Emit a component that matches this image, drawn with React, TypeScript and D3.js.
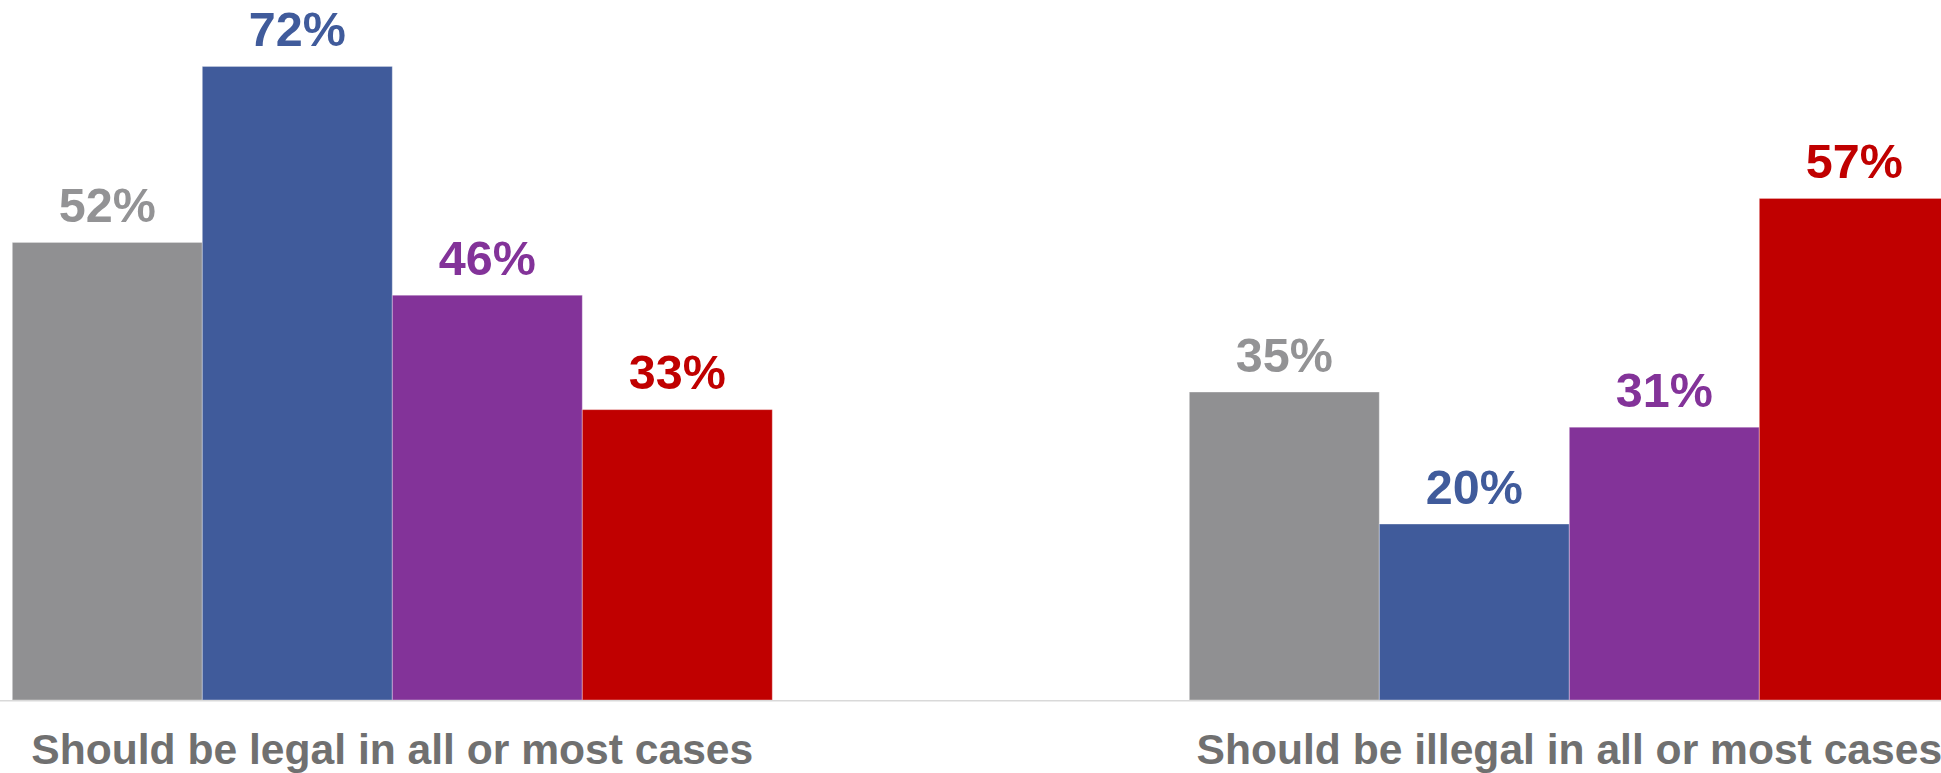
import React from "react";
import * as d3 from "d3";

const categories = ["Should be legal in all or most cases", "Should be illegal in all or most cases"];
const seriesNames = ["Total", "Democrat", "Independent", "Republican"];
const seriesColors = ["#909092", "#405B9B", "#833399", "#C00000"];
const labelColors = ["#939395", "#405B9B", "#833399", "#C00000"];
const values: number[][] = [
  [52, 72, 46, 33],
  [35, 20, 31, 57],
];

const W = 1941;
const H = 773;

export default function App() {
  const baseline = 700;
  const x0 = d3.scaleBand<string>().domain(categories).range([12.3, 1949.3]).paddingInner(0.3543).paddingOuter(0);
  const x1 = d3.scaleBand<string>().domain(seriesNames).range([0, x0.bandwidth()]).padding(0);
  const y = d3.scaleLinear().domain([0, 79.55]).range([baseline, 0]);

  return (
    <svg
      width={W}
      height={H}
      style={{ position: "absolute", left: 0, top: 0, display: "block", background: "#fff" }}
      fontFamily="'Liberation Sans', Arial, sans-serif"
    >
      <rect x={0} y={0} width={W} height={H} fill="#fff" />
      {categories.map((c, ci) => (
        <g key={c} transform={`translate(${x0(c)},0)`}>
          {seriesNames.map((s, si) => {
            const v = values[ci][si];
            const bx = x1(s)!;
            return (
              <g key={s}>
                <rect
                  x={bx}
                  y={y(v)}
                  width={x1.bandwidth()}
                  height={baseline - y(v)}
                  fill={seriesColors[si]}
                  stroke="#ffffff"
                  strokeOpacity={0.35}
                  strokeWidth={1}
                />
                <text
                  x={bx + x1.bandwidth() / 2}
                  y={y(v) - 20.5}
                  textAnchor="middle"
                  fontSize={48.5}
                  fontWeight="bold"
                  fill={labelColors[si]}
                >
                  {v}%
                </text>
              </g>
            );
          })}
        </g>
      ))}
      <line x1={0} x2={W} y1={baseline + 0.8} y2={baseline + 0.8} stroke="#d9d9d9" strokeWidth={1.6} />
      {categories.map((c) => (
        <text
          key={c}
          x={x0(c)! + x0.bandwidth() / 2}
          y={764.3}
          textAnchor="middle"
          fontSize={42.6}
          fontWeight="bold"
          fill="#707070"
        >
          {c}
        </text>
      ))}
    </svg>
  );
}
